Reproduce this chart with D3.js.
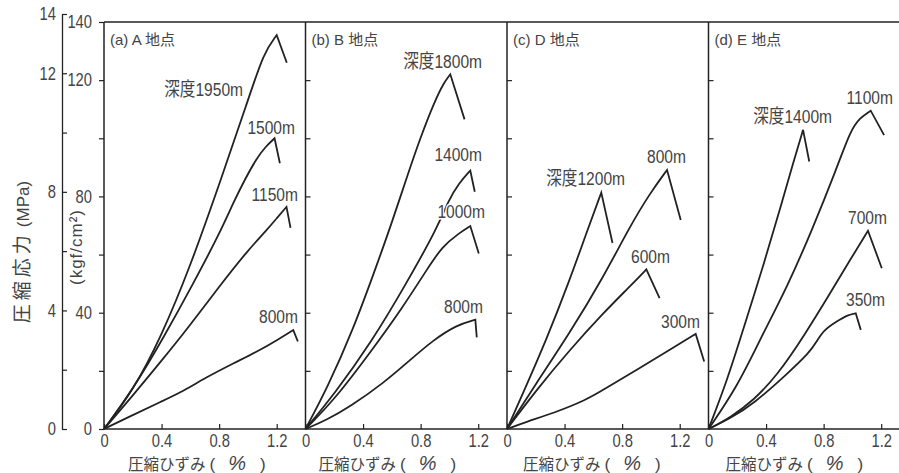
<!DOCTYPE html>
<html><head><meta charset="utf-8">
<script src="https://cdn.jsdelivr.net/npm/d3@7"></script>
<style>
html,body{margin:0;padding:0;background:#fff;}
svg text{font-family:"Liberation Sans","Noto Sans CJK JP",sans-serif;fill:#444;}
</style></head>
<body><svg id="c" width="899" height="473"></svg>
<script>
// ---------------- data ----------------
const panelTitles = ["(a) A 地点", "(b) B 地点", "(c) D 地点", "(d) E 地点"];
const xTickValues = [0, 0.4, 0.8, 1.2];
const kgfTickValues = [0, 20, 40, 60, 80, 100, 120, 140];
const kgfTickLabels = [0, 40, 80, 120, 140];
const innerTickValues = [20, 40, 60, 80, 100, 120];
const mpaTickValues = [0, 2, 4, 6, 8, 10, 12, 14];
const mpaTickLabels = [0, 4, 8, 12, 14];

// curves: [strain %, stress kgf/cm2]; last point = after failure
const a1950 = [[0,0],[0.2,13],[0.4,32],[0.6,56],[0.8,84],[1.0,113],[1.11,129.5],[1.2,135.5],[1.27,126]];
const a1500 = [[0,0],[0.2,13.5],[0.42,32],[0.62,50],[0.8,67],[0.9,78],[0.98,86],[1.06,93],[1.12,97],[1.185,100],[1.222,91.4]];
const a1150 = [[0,0],[0.2,11.5],[0.4,23.5],[0.58,34.5],[0.8,49],[1.0,61.5],[1.134,68.6],[1.2,72.5],[1.268,76.4],[1.296,69.2]];
const a800  = [[0,0],[0.2,4.8],[0.4,9.5],[0.55,13],[0.7,17.5],[0.9,22.6],[1.087,27.2],[1.2,30.5],[1.315,34],[1.347,30.1]];

const b1800 = [[0,0],[0.15,14],[0.33,34],[0.5,57],[0.6,71],[0.7,86],[0.8,100.5],[0.9,113],[0.96,119],[1.006,122],[1.105,106.5]];
const b1400 = [[0,0],[0.2,12],[0.46,30],[0.7,50],[0.914,69],[0.995,78.8],[1.065,84.5],[1.145,88.9],[1.176,81.6]];
const b1000 = [[0,0],[0.2,10],[0.46,27],[0.671,41.5],[0.856,55.8],[0.949,62.7],[1.065,67.3],[1.145,69.8],[1.204,60.4]];
const b800  = [[0,0],[0.147,3.1],[0.309,7.7],[0.54,15.7],[0.726,23.7],[0.888,30.6],[1.05,35.8],[1.18,37.6],[1.19,31.5]];

const c1200 = [[0,0],[0.111,12.3],[0.273,30.6],[0.436,51.3],[0.551,67.3],[0.655,81.3],[0.733,64]];
const c800  = [[0,0],[0.2,15.5],[0.436,33],[0.667,52],[0.853,69.6],[0.992,81],[1.112,89.1],[1.207,71.9]];
const c600  = [[0,0],[0.204,13.4],[0.436,27.2],[0.667,39.8],[0.853,49],[0.968,54.9],[1.06,45]];
const c300  = [[0,0],[0.134,2.5],[0.32,5.4],[0.551,10],[0.667,13.4],[0.899,20.3],[1.131,27.2],[1.311,32.7],[1.37,23.2]];

const d1400 = [[0,0],[0.131,16.9],[0.247,35.2],[0.386,57],[0.502,76.5],[0.594,92.5],[0.657,102.9],[0.70,92]];
const d1100 = [[0,0],[0.2,14.6],[0.36,31],[0.548,49],[0.72,68.5],[0.895,90.2],[0.985,102.5],[1.05,107],[1.127,109.5],[1.22,101.1]];
const d700  = [[0,0],[0.154,4],[0.316,10],[0.478,18.5],[0.664,32],[0.849,47],[0.988,58.5],[1.108,68.2],[1.204,55.3]];
const d350  = [[0,0],[0.154,3.7],[0.316,8.8],[0.548,19],[0.705,26.5],[0.75,30],[0.80,34],[0.89,37],[0.97,39.3],[1.023,39.8],[1.058,34.1]];

const curveLabelsA = ["深度1950m", "1500m", "1150m", "800m"];
const curveLabelsB = ["深度1800m", "1400m", "1000m", "800m"];
const curveLabelsC = ["深度1200m", "800m", "600m", "300m"];
const curveLabelsD = ["深度1400m", "1100m", "700m", "350m"];

// ---------------- layout ----------------
const panelCurves = [[a1950,a1500,a1150,a800],[b1800,b1400,b1000,b800],[c1200,c800,c600,c300],[d1400,d1100,d700,d350]];
const panelLabels = [curveLabelsA, curveLabelsB, curveLabelsC, curveLabelsD];
// label anchor (right end, baseline) relative to panel left edge, px
const labelPos = [
  [[139,96],[191,134],[194,201],[194,323]],
  [[176.5,68],[176.5,161],[179.5,218],[177.5,313]],
  [[118,185],[179,163],[163,263],[193,328]],
  [[123.5,123],[184.5,104],[178.5,224],[176.5,306]]
];
const titleOffset = [24, 13, 16, 17];
const SX = 0.82;           // horizontal condensing of the lettering
const NUM_FS = 18;         // numeral font size before condensing

const svg = d3.select("#c");
const leftX = 104, panelW = 201.5, topY = 22, bottomY = 429;
const KGF_PER_MPA = 10.197;
const y = d3.scaleLinear().domain([0,140]).range([bottomY, topY]);
const yMpa = d3.scaleLinear().domain([0,14]).range([bottomY, y(14*KGF_PER_MPA)]);
const ink = "#222";
const txt = "#4a4a4a";

function styleTickText(sel){
  sel.attr("font-size",NUM_FS).attr("fill",txt)
    .attr("font-family",'"Liberation Sans",sans-serif')
    .attr("transform",`scale(${SX},1)`)
    .each(function(){ const t=d3.select(this); t.attr("x", +t.attr("x")/SX); });
}

// MPa axis
const gM = svg.append("g").attr("transform","translate(62,0)")
  .call(d3.axisLeft(yMpa).tickValues(mpaTickValues).tickSize(-5).tickSizeOuter(0).tickPadding(6)
    .tickFormat(d => mpaTickLabels.includes(d) ? d : ""));
// kgf axis
const gK = svg.append("g").attr("transform",`translate(${leftX},0)`)
  .call(d3.axisLeft(y).tickValues(kgfTickValues).tickSize(5).tickSizeOuter(0).tickPadding(7)
    .tickFormat(d => kgfTickLabels.includes(d) ? d : ""));
[gM,gK].forEach(g=>{
  g.selectAll("path.domain").attr("stroke",ink).attr("stroke-width",1.3);
  g.selectAll(".tick line").attr("stroke",ink).attr("stroke-width",1.2);
  styleTickText(g.selectAll("text"));
});
gK.select("path.domain").remove();

const line = d3.line().curve(d3.curveBasis);

for (let i=0;i<4;i++){
  const x0 = leftX + i*panelW;
  const x = d3.scaleLinear().domain([0,1.4]).range([x0, x0+panelW]);
  const g = svg.append("g");

  if (i>0){
    const gi = g.append("g").attr("transform",`translate(${x0},0)`)
      .call(d3.axisRight(y).tickValues(innerTickValues).tickSize(5).tickFormat(""));
    gi.select("path.domain").remove();
    gi.selectAll(".tick line").attr("stroke",ink).attr("stroke-width",1.2);
  }
  const gx = g.append("g").attr("transform",`translate(0,${bottomY})`)
    .call(d3.axisBottom(x).tickValues(xTickValues).tickSize(-5).tickPadding(5)
      .tickFormat(d => d===0 ? "0" : d.toFixed(1)));
  gx.select("path.domain").remove();
  gx.selectAll(".tick line").attr("stroke",ink).attr("stroke-width",1.2);
  styleTickText(gx.selectAll("text"));

  g.append("line").attr("x1",x0).attr("x2",x0).attr("y1",topY).attr("y2",bottomY)
    .attr("stroke",ink).attr("stroke-width",1.5);

  panelCurves[i].forEach(c=>{
    const rise = c.slice(0,-1).map(p=>[x(p[0]), y(p[1])]);
    const drop = c[c.length-1];
    g.append("path").attr("d", line(rise) + `L${x(drop[0])},${y(drop[1])}`)
      .attr("fill","none").attr("stroke",ink).attr("stroke-width",1.8)
      .attr("stroke-linejoin","miter");
  });
  panelLabels[i].forEach((t,j)=>{
    g.append("text")
      .attr("transform",`translate(${x0+labelPos[i][j][0]},${labelPos[i][j][1]}) scale(${SX},1)`)
      .attr("text-anchor","end").attr("font-size",19).attr("fill",txt)
      .attr("stroke","#fff").attr("stroke-width",3).attr("paint-order","stroke")
      .text(t);
  });
  g.append("text").attr("x", x0+6).attr("y", 45).attr("font-size",15).attr("fill",txt).text(panelTitles[i]);

  const tt = g.append("text").attr("x", x0+titleOffset[i]).attr("y", 470).attr("fill",txt)
    .attr("font-family",'"Noto Sans CJK JP",sans-serif').attr("font-size",15.5);
  tt.append("tspan").text("圧縮ひずみ");
  tt.append("tspan").attr("dx",4).attr("font-family",'"Liberation Sans",sans-serif').attr("font-size",17).text("(");
  tt.append("tspan").attr("dx",13).attr("font-family",'"Liberation Sans",sans-serif').attr("font-size",20).attr("font-style","italic").text("%");
  tt.append("tspan").attr("dx",14).attr("font-family",'"Liberation Sans",sans-serif').attr("font-size",17).text(")");
}

svg.append("line").attr("x1",leftX).attr("x2",920).attr("y1",topY).attr("y2",topY).attr("stroke",ink).attr("stroke-width",1.5);
svg.append("line").attr("x1",leftX).attr("x2",920).attr("y1",bottomY).attr("y2",bottomY).attr("stroke",ink).attr("stroke-width",1.5);

const yt = svg.append("text").attr("transform","translate(29,252) rotate(-90)").attr("text-anchor","middle").attr("fill",txt);
yt.append("tspan").attr("font-family",'"Noto Sans CJK JP",sans-serif').attr("font-size",19).attr("letter-spacing",4).text("圧縮応力");
yt.append("tspan").attr("dx",4).attr("font-size",17).text("(MPa)");
svg.append("text").attr("transform","translate(82,247) rotate(-90)").attr("text-anchor","middle").attr("fill",txt)
  .attr("font-size",17).attr("letter-spacing",1).text("(kgf/cm²)");
</script></body></html>
